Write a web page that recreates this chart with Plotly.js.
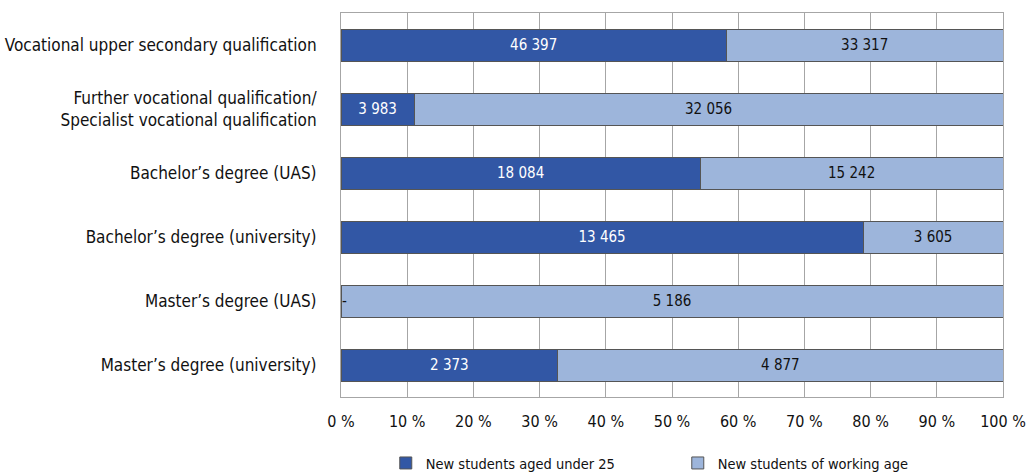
<!DOCTYPE html>
<html>
<head>
<meta charset="utf-8">
<script src="https://cdn.plot.ly/plotly-3.0.1.min.js"></script>
<style>
  html, body { margin: 0; padding: 0; background: #ffffff; }
  #chart { width: 1026px; height: 472px; }
</style>
</head>
<body>
<div id="chart"></div>
<script>
// New students by qualification and age group
const categories = [
  "Vocational upper secondary qualification",
  "Further vocational qualification/<br>Specialist vocational qualification",
  "Bachelor’s degree (UAS)",
  "Bachelor’s degree (university)",
  "Master’s degree (UAS)",
  "Master’s degree (university)"
];
const under25 = [46397, 3983, 18084, 13465, 0, 2373];
const workingAge = [33317, 32056, 15242, 3605, 5186, 4877];
const seriesNames = ["New students aged under 25", "New students of working age"];

const FONT = '"DejaVu Sans Condensed", "DejaVu Sans", sans-serif';

// thousands separated with a space, zero shown as a dash
function fmt(v) {
  if (v === 0) return "-";
  return String(v).replace(/\B(?=(\d{3})+(?!\d))/g, " ");
}

const totals = under25.map((v, i) => v + workingAge[i]);
const pctUnder = under25.map((v, i) => v / totals[i] * 100);
const pctWork = workingAge.map((v, i) => v / totals[i] * 100);

const lineStyle = { color: "#555555", width: 1 };

const traces = [
  {
    type: "bar", orientation: "h", name: seriesNames[0],
    y: categories, x: pctUnder,
    text: under25.map(v => v === 0 ? "" : fmt(v)),
    textposition: "inside", insidetextanchor: "middle", textangle: 0,
    constraintext: "none",
    textfont: { family: FONT, size: 15, color: "#ffffff" },
    marker: { color: "#3257A5", line: lineStyle },
    hoverinfo: "skip"
  },
  {
    type: "bar", orientation: "h", name: seriesNames[1],
    y: categories, x: pctWork,
    text: workingAge.map(fmt),
    textposition: "inside", insidetextanchor: "middle", textangle: 0,
    constraintext: "none",
    textfont: { family: FONT, size: 15, color: "#111111" },
    marker: { color: "#9DB5DB", line: lineStyle },
    hoverinfo: "skip"
  }
];

// a dash marks a zero count at the start of the bar
const annotations = [];
under25.forEach((v, i) => {
  if (v === 0) {
    annotations.push({
      x: 0, y: categories[i], xref: "x", yref: "y",
      text: "-", showarrow: false, xanchor: "left", xshift: -1,
      font: { family: FONT, size: 15, color: "#111111" }
    });
  }
});

const layout = {
  width: 1026, height: 472,
  margin: { l: 341, r: 23, t: 13, b: 75 },
  paper_bgcolor: "#ffffff", plot_bgcolor: "#ffffff",
  barmode: "stack", bargap: 0.5,
  font: { family: FONT, size: 17, color: "#111111" },
  showlegend: true,
  legend: {
    orientation: "h",
    xref: "container", x: 0.376, xanchor: "left",
    yref: "container", y: 0.019, yanchor: "middle",
    entrywidth: 247, entrywidthmode: "pixels",
    font: { family: FONT, size: 14.5, color: "#111111" },
    traceorder: "normal"
  },
  xaxis: {
    range: [0, 100], dtick: 10, tick0: 0,
    ticksuffix: " %",
    showgrid: true, gridcolor: "#a6a6a6", gridwidth: 1,
    zeroline: false,
    showline: true, linecolor: "#a6a6a6", linewidth: 1, mirror: true,
    ticks: "outside", ticklen: 10, tickcolor: "rgba(0,0,0,0)",
    ticklabeloverflow: "allow",
    tickfont: { family: FONT, size: 16, color: "#111111" },
    fixedrange: true
  },
  yaxis: {
    autorange: "reversed",
    showgrid: false, zeroline: false,
    showline: true, linecolor: "#a6a6a6", linewidth: 1, mirror: true,
    ticks: "outside", ticklen: 20, tickcolor: "rgba(0,0,0,0)",
    tickfont: { family: FONT, size: 17, color: "#111111" },
    fixedrange: true
  },
  annotations: annotations
};

Plotly.newPlot("chart", traces, layout, { displayModeBar: false, staticPlot: true });
</script>
</body>
</html>
